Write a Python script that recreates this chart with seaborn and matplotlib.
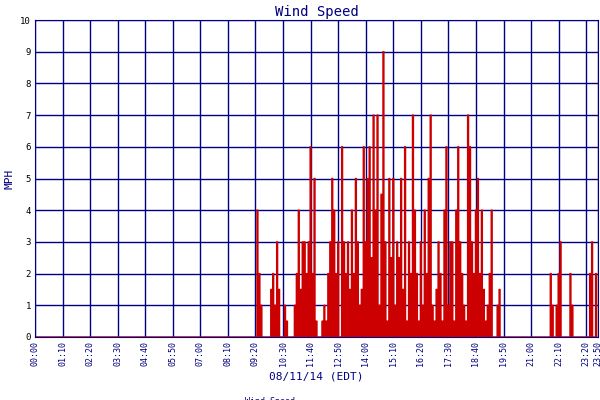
import matplotlib
matplotlib.use("Agg")
import matplotlib.pyplot as plt
import seaborn as sns
import numpy as np
import pandas as pd

tick_labels = ["00:00","01:10","02:20","03:30","04:40","05:50","07:00","08:10","09:20","10:30",
               "11:40","12:50","14:00","15:10","16:20","17:30","18:40","19:50","21:00","22:10","23:20","23:50"]
# wind speed (MPH), 5-minute samples starting 00:00
early = [0]*112
active = [0,4,2,1,0,0,0,0,
          1.5,2,1,3,1.5,0,0,1,
          0.5,0,0,0,1,2,4,1.5,
          3,3,2,3,6,2,5,0.5,
          0,0,0.5,1,0.5,2,3,5,
          4,2,3,0,6,3,2,3,
          1.5,4,2,5,3,1,1.5,6,
          3,5,6,2.5,7,4,7,1,
          4.5,9,3,0.5,5,2.5,5,1,
          3,2.5,5,1.5,6,0.5,3,2,
          7,4,2,0.5,3,1,4,2,
          5,7,1,0.5,1.5,3,2,0.5,
          4,6,1,3,3,0.5,4,6,
          3,2,1,0.5,7,6,3,2,
          4,5,2,4,1.5,0.5,1,2,
          4,0,0,1,1.5,0,0,0]
late = [0,0,0,0,0,0,0,0,0,0,0,0,0,0,0,0,0,0,0,0,0,0,
        2,1,0,1,2,3,0,0,0,0,2,1,0,0,0,0,0,0,0,0,2,3,0,2]
speed = early + active + late
minutes = np.arange(len(speed))*5

# impulse-style trace: each sample drawn as a spike up from zero
sp = np.array(speed, dtype=float)
imp_x = np.repeat(minutes, 4) + np.tile([-1.2, -1.2, 1.2, 1.2], len(minutes))
imp_y = np.column_stack([np.zeros_like(sp), sp, sp, np.zeros_like(sp)]).ravel()
df = pd.DataFrame({"min": imp_x, "speed": imp_y})

navy = "#000080"
red = "#cc0000"
mono = "DejaVu Sans Mono"
fig = plt.figure(figsize=(6,4), dpi=100)
ax = fig.add_axes([35/600, 1-337/400, 563/600, 317/400])
sns.lineplot(data=df, x="min", y="speed", ax=ax, color=red, lw=1, sort=False,
             estimator=None, label="Wind Speed")
ax.set_xlim(0, 1430)
ax.set_ylim(0, 10)
ticks = [i*70 for i in range(21)] + [1430]
ax.set_xticks(ticks)
ax.set_xticklabels(tick_labels, rotation=90, fontsize=6, family=mono, color=navy)
ax.set_yticks(range(11))
ax.set_yticklabels([str(i) for i in range(11)], fontsize=6.5, family=mono, color="black")
ax.grid(True, color=navy, lw=1)
ax.tick_params(length=0, pad=3)
for s in ax.spines.values():
    s.set_color(navy)
ax.set_title("Wind Speed", family=mono, color=navy, fontsize=10, pad=3)
ax.set_xlabel("08/11/14 (EDT)", family=mono, color=navy, fontsize=8)
ax.set_ylabel("MPH", family=mono, color=navy, fontsize=8)
ax.legend(loc="upper center", bbox_to_anchor=(0.4, -0.165), frameon=False,
          prop={"family": mono, "size": 6}, labelcolor=navy, handlelength=1.5)
fig.savefig("out.png", dpi=100)
